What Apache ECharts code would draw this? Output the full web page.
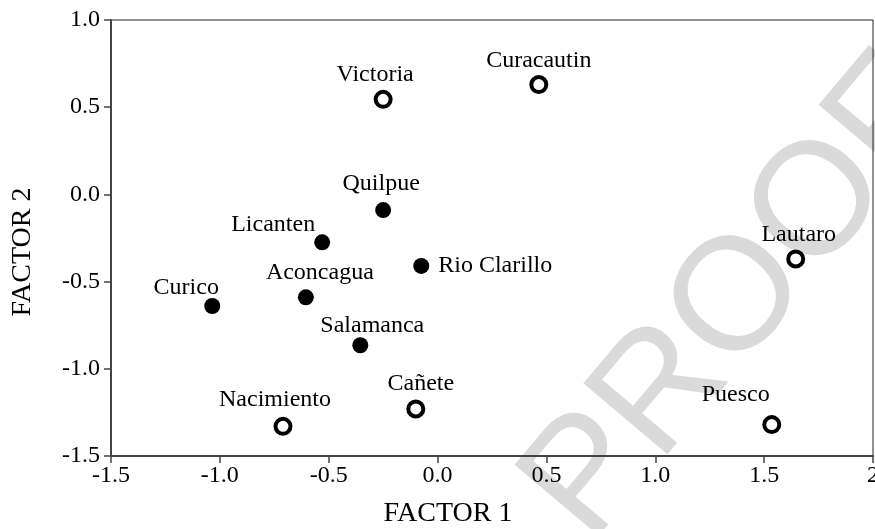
<!DOCTYPE html>
<html>
<head>
<meta charset="utf-8">
<script src="https://cdn.jsdelivr.net/npm/echarts@6/dist/echarts.min.js"></script>
<style>
  html, body { margin: 0; padding: 0; background: #fff; }
  #chart { width: 875px; height: 529px; }
</style>
</head>
<body>
<div id="chart"></div>
<script>
// sites drawn as open rings
const openSites = ['Victoria', 'Curacautin', 'Lautaro', 'Nacimiento', 'Cañete', 'Puesco'];
const openF1 = [-0.25, 0.465, 1.645, -0.71, -0.10, 1.535];
const openF2 = [0.545, 0.63, -0.37, -1.33, -1.23, -1.32];

// sites drawn as filled dots
const filledSites = ['Quilpue', 'Licanten', 'Rio Clarillo', 'Aconcagua', 'Curico', 'Salamanca'];
const filledF1 = [-0.25, -0.53, -0.075, -0.605, -1.035, -0.355];
const filledF2 = [-0.09, -0.275, -0.41, -0.59, -0.64, -0.865];

const xTickLabels = ['-1.5', '-1.0', '-0.5', '0.0', '0.5', '1.0', '1.5', '2'];
const yTickLabels = ['-1.5', '-1.0', '-0.5', '0.0', '0.5', '1.0'];

const serif = '"Liberation Serif", "Times New Roman", serif';

// where each name sits relative to its point (label centre offset)
const labelOffset = {
    'Victoria': [-8, -25], 'Curacautin': [0, -24], 'Lautaro': [3, -24],
    'Nacimiento': [-8, -27], 'Cañete': [5, -25], 'Puesco': [-36, -30],
    'Quilpue': [-2, -26], 'Licanten': [-49, -18], 'Aconcagua': [14, -25],
    'Curico': [-26, -18], 'Salamanca': [12, -20]
};

const buildData = (names, xs, ys) => names.map((n, i) => {
    const item = { value: [xs[i], ys[i], n] };
    if (labelOffset[n]) {
        item.label = { position: 'inside', offset: labelOffset[n] };
    } else {
        item.label = { position: 'right', distance: 9 };
    }
    return item;
});

const labelStyle = {
    show: true,
    formatter: p => p.value[2],
    color: '#000',
    fontFamily: serif,
    fontSize: 24
};

const chart = echarts.init(document.getElementById('chart'));

chart.setOption({
    animation: false,
    backgroundColor: '#fff',
    grid: {
        left: 111, right: 2, top: 20, bottom: 73,
        containLabel: false, outerBoundsMode: 'none',
        show: true, borderColor: '#222', borderWidth: 1
    },
    xAxis: {
        type: 'value', min: -1.5, max: 2, interval: 0.5,
        axisLine: { onZero: false, lineStyle: { color: '#444', width: 2 } },
        axisTick: { inside: false, length: 7, lineStyle: { color: '#444', width: 1.5 } },
        axisLabel: {
            margin: 8, color: '#000', fontFamily: serif, fontSize: 24,
            formatter: v => xTickLabels[Math.round((v + 1.5) / 0.5)]
        },
        splitLine: { show: false }
    },
    yAxis: {
        type: 'value', min: -1.5, max: 1.0, interval: 0.5,
        axisLine: { onZero: false, lineStyle: { color: '#444', width: 2 } },
        axisTick: { inside: false, length: 7, lineStyle: { color: '#444', width: 1.5 } },
        axisLabel: {
            margin: 11, color: '#000', fontFamily: serif, fontSize: 24,
            formatter: v => yTickLabels[Math.round((v + 1.5) / 0.5)]
        },
        splitLine: { show: false }
    },
    graphic: [
        {
            type: 'text', x: 740, y: 300, rotation: 0.87, z: -10,
            style: {
                text: 'PROOF', fill: '#dadada',
                font: '160px "Liberation Sans", Arial, sans-serif',
                align: 'center', verticalAlign: 'middle',
                textAlign: 'center', textVerticalAlign: 'middle'
            }
        },
        {
            type: 'text', x: 448, y: 514,
            style: {
                text: 'FACTOR 1', fill: '#000',
                font: '28px "Liberation Serif", "Times New Roman", serif',
                align: 'center', verticalAlign: 'middle',
                textAlign: 'center', textVerticalAlign: 'middle'
            }
        },
        {
            type: 'text', x: 23, y: 252, rotation: Math.PI / 2,
            style: {
                text: 'FACTOR 2', fill: '#000',
                font: '28px "Liberation Serif", "Times New Roman", serif',
                align: 'center', verticalAlign: 'middle',
                textAlign: 'center', textVerticalAlign: 'middle'
            }
        }
    ],
    series: [
        {
            name: 'open',
            type: 'scatter',
            symbol: 'circle',
            symbolSize: 15,
            itemStyle: { color: '#fff', borderColor: '#000', borderWidth: 4, opacity: 1 },
            label: labelStyle,
            data: buildData(openSites, openF1, openF2)
        },
        {
            name: 'filled',
            type: 'scatter',
            symbol: 'circle',
            symbolSize: 16,
            itemStyle: { color: '#000', opacity: 1 },
            label: labelStyle,
            data: buildData(filledSites, filledF1, filledF2)
        }
    ]
});
</script>
</body>
</html>
